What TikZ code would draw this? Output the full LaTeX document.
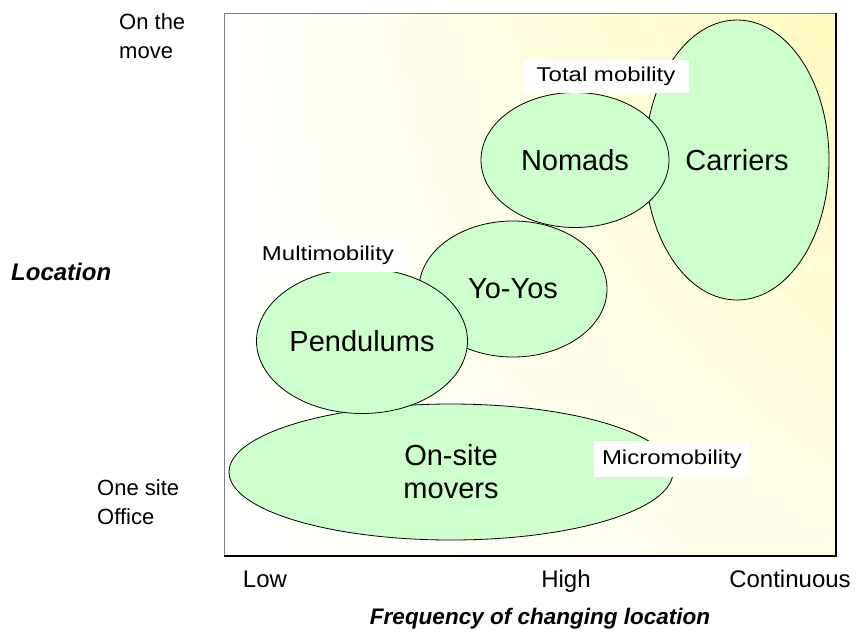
\documentclass[tikz,border=0pt]{standalone}
\usepackage{fontspec}
\setmainfont{Liberation Sans}
\newfontfamily\tagfont{Liberation Sans}[FakeStretch=1.2]
\usetikzlibrary{shapes.geometric, shadings, positioning}

\definecolor{grpgreen}{RGB}{204,255,204}
\definecolor{bgyellow}{RGB}{255,250,190}

\begin{document}
\begin{tikzpicture}[x=1pt, y=-1pt, inner sep=0pt,
  grp/.style={ellipse, draw, line width=0.8pt, fill=grpgreen, align=center, font=\fontsize{29}{33}\selectfont},
  tag/.style={fill=white, minimum height=33pt, font=\tagfont\fontsize{20}{24}\selectfont},
  axis/.style={align=left, font=\fontsize{22}{29}\selectfont},
  axistitle/.style={font=\fontsize{22.5}{26}\selectfont\bfseries\itshape}]
\useasboundingbox (0,0) rectangle (856,633);
% plot area
\shade[upper left=white, upper right=bgyellow, lower left=white, lower right=bgyellow!35] (224,13) rectangle (836,556);
\draw[gray, line width=1pt] (224,556) -- (224,13) -- (836,13);
\draw[line width=1.2pt] (836,13) -- (836,556) -- (224,556);
% groups
\node[grp, minimum width=184pt, minimum height=280pt] (carriers) at (737,160) {Carriers};
\node[grp, minimum width=188pt, minimum height=135pt] (nomads) at (575,160) {Nomads};
\node[grp, minimum width=444pt, minimum height=136pt] (onsite) at (451,472) {On-site\\movers};
\node[grp, minimum width=188pt, minimum height=136pt] (yoyos) at (513,289) {Yo-Yos};
\node[grp, minimum width=211pt, minimum height=145pt] (pendulums) at (362,341) {Pendulums};
% mobility tags
\node[tag, minimum width=166pt] (total) at (606,76) {Total mobility};
\node[tag, minimum width=156pt, minimum height=34pt] (multi) at (328,255) {Multimobility};
\node[tag, minimum width=156pt, minimum height=36pt] (micro) at (672,459) {Micromobility};
% axes
\node[axis, anchor=west] (onmove) at (119,36) {On the\\move};
\node[axistitle, font=\fontsize{24}{28}\selectfont\bfseries\itshape, anchor=west] (loc) at (11,272) {Location};
\node[axis, anchor=west] (onesite) at (97,502) {One site\\Office};
\node[axis, font=\fontsize{24}{28}\selectfont, anchor=base] (low) at (265,587) {Low};
\node[axis, font=\fontsize{24}{28}\selectfont, anchor=base] (high) at (566,587) {High};
\node[axis, font=\fontsize{24}{28}\selectfont, anchor=base] (cont) at (790,587) {Continuous};
\node[axistitle] (freq) at (540,619) {Frequency of changing location};
\end{tikzpicture}
\end{document}
